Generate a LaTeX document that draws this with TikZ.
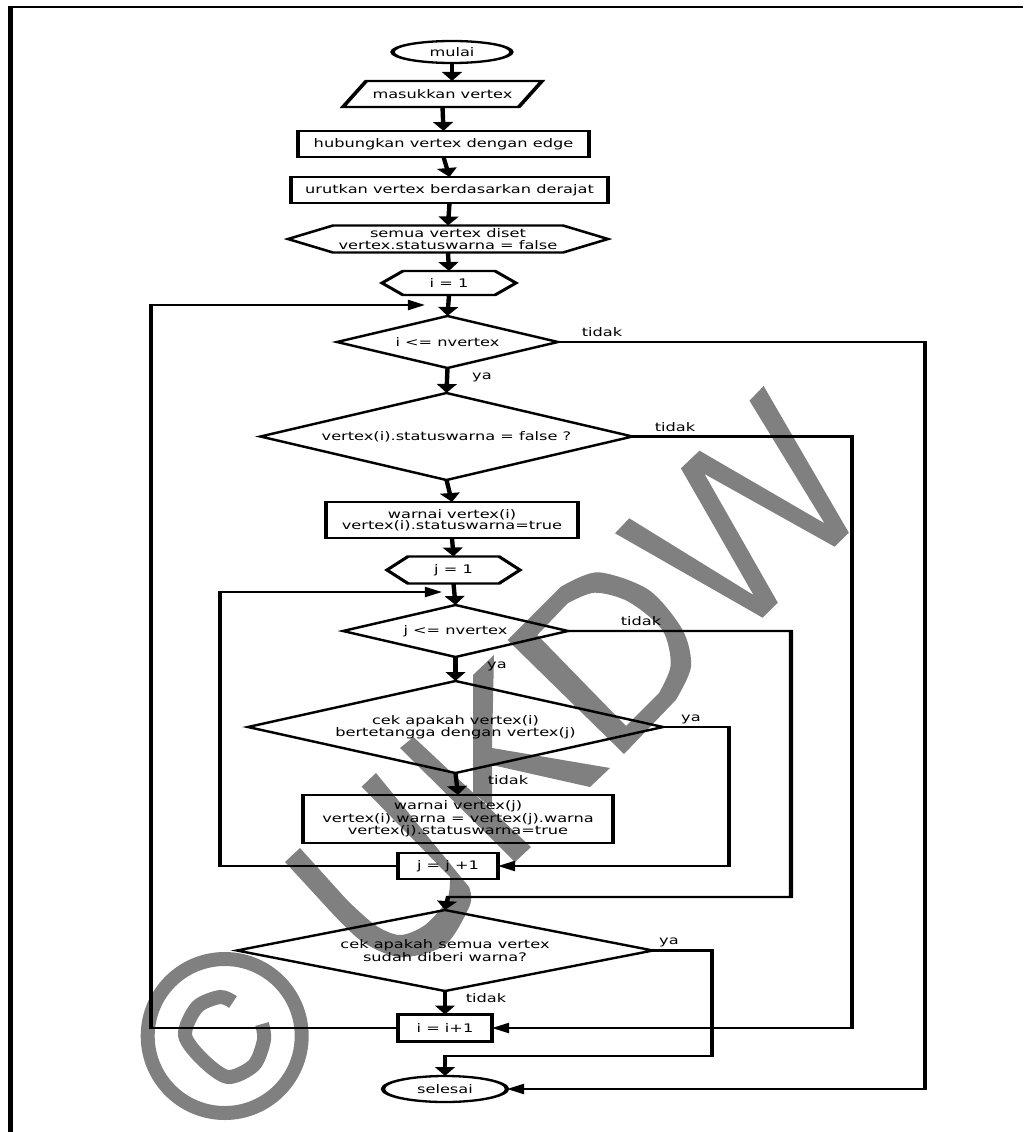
\documentclass[tikz,border=0pt]{standalone}
\usepackage{fontspec}
\setmainfont[FakeStretch=0.722]{DejaVu Sans}
\usetikzlibrary{shapes.geometric,arrows.meta}
\definecolor{wm}{HTML}{808080}
\newcommand{\hexcut}{5pt}
\makeatletter
\pgfdeclareshape{hexbox}{
  \inheritsavedanchors[from=rectangle]
  \inheritanchorborder[from=rectangle]
  \inheritanchor[from=rectangle]{center}
  \inheritanchor[from=rectangle]{north}
  \inheritanchor[from=rectangle]{south}
  \inheritanchor[from=rectangle]{east}
  \inheritanchor[from=rectangle]{west}
  \backgroundpath{
    \southwest \edef\hxa{\the\pgf@x}\edef\hya{\the\pgf@y}
    \northeast \edef\hxb{\the\pgf@x}\edef\hyb{\the\pgf@y}
    \pgfmathsetmacro\hym{(\hya+\hyb)/2}
    \pgfmathsetmacro\hxc{\hxa+\hexcut}
    \pgfmathsetmacro\hxd{\hxb-\hexcut}
    \pgfpathmoveto{\pgfpoint{\hxa}{\hym pt}}
    \pgfpathlineto{\pgfpoint{\hxc pt}{\hyb}}
    \pgfpathlineto{\pgfpoint{\hxd pt}{\hyb}}
    \pgfpathlineto{\pgfpoint{\hxb}{\hym pt}}
    \pgfpathlineto{\pgfpoint{\hxd pt}{\hya}}
    \pgfpathlineto{\pgfpoint{\hxc pt}{\hya}}
    \pgfpathclose
  }
}
\makeatother
\tikzset{
  sized/.style 2 args={minimum width=#1*0.5263pt,minimum height=#2*1pt,inner sep=0pt,outer sep=0pt},
  flow/.style={draw=black,line width=2.3pt,align=center,font=\fontsize{11.8}{11.2}\selectfont},
  procbox/.style={flow,rectangle},
  termbox/.style={flow,ellipse},
  dec/.style={flow,diamond,aspect=2.5},
  prep/.style={flow,shape=hexbox,/utils/exec={\renewcommand{\hexcut}{#1*0.5263pt}}},
  inbox/.style={flow,trapezium,trapezium left angle=39,trapezium right angle=141,trapezium stretches=true},
  conn/.style={draw=black,line width=2.3pt,-{Triangle[length=9pt,width=10pt]}},
  plain/.style={draw=black,line width=2.3pt},
  lab/.style={font=\fontsize{11.8}{11.2}\selectfont,inner sep=0pt},
}
\begin{document}
\begin{tikzpicture}
\useasboundingbox (0,0) rectangle (1023pt,-1132pt);
% watermark, behind the chart
\begin{scope}[x=1pt,y=-1pt]
\fill[wm] (763.6,386)--(848.8,532.7)--(834.6,546.7)--(704.5,474)--(777.8,602.7)--(762.6,617.7)--(615,533.3)--(629.2,518.3)--(753.5,595)--(680.9,468.3)--(699.5,450.7)--(824.5,523.3)--(749.5,400.7)--cycle;
\fill[wm,even odd rule] (507.6,640)-- plot[smooth] coordinates {(561,586.7)(598,572.3)(648.8,590)(682.6,630)(691,666.7)(675.8,700)} --(624,754)--cycle
  (537.3,635)-- plot[smooth] coordinates {(567.7,603.3)(594.7,592.7)(628.5,601.7)(662.3,630)(670.7,665)(659,693)} --(626,726)--cycle;
\fill[wm] (400,748)--(413.5,737)--(531,847)--(515,862)--cycle;
\fill[wm] (494,655)--(492,748)--(610,768)--(590,787)--(492,765)--(492,808)--(473,793)--(473,675)--cycle;
\fill[wm] (285,862)--(300,848)-- plot[smooth] coordinates {(347,900)(375,925)(400,935)(425,925)(447,900)(450,877)} --(361.6,786.7)--(376,773)-- plot[smooth] coordinates {(469,887)(470,905)(445,945)(400,957)(360,940)(320,900)} --cycle;
\draw[wm,line width=14pt] (224.7,1036) circle (77pt);
\draw[wm,line width=14pt] plot[smooth] coordinates {(233,1002)(220,997)(197,1007)(185,1035)(203,1060)(228,1077)(254,1065)(264,1040)(262,1024)};
\end{scope}
% chart, stretched horizontally
\begin{scope}[transform canvas={xscale=1.9},x=0.5263pt,y=-1pt]
\coordinate (bl) at (10.5,1132);
\coordinate (tl) at (10.5,7);
\coordinate (tr) at (1023,7);
\draw[plain] (bl)--(tl)--(tr);

\node[termbox,sized={119}{22}] (mulai) at (452,52) {mulai};
\node[inbox,sized={201}{26}] (mas) at (442.5,94) {masukkan vertex};
\node[procbox,sized={291}{26}] (hub) at (443.5,144) {hubungkan vertex dengan edge};
\node[procbox,sized={317}{26}] (urut) at (449.5,190) {urutkan vertex berdasarkan derajat};
\node[prep=45,sized={320}{27}] (semua) at (448,239) {semua vertex diset\\vertex.statuswarna = false};
\node[prep=21,sized={134}{24}] (i1) at (449,283) {i = 1};
\node[dec,sized={221}{52}] (d1) at (447.5,342) {i <= nvertex};
\node[dec,sized={372}{87}] (d2) at (446.5,436.5) {vertex(i).statuswarna = false ?};
\node[procbox,sized={252}{36}] (warnai) at (452,520) {warnai vertex(i)\\vertex(i).statuswarna=true};
\node[prep=21,sized={133}{27}] (j1) at (453.5,570) {j = 1};
\node[dec,sized={225}{52}] (d3) at (455.5,631) {j <= nvertex};
\node[dec,sized={415}{92}] (d4) at (455.5,727) {cek apakah vertex(i)\\bertetangga dengan vertex(j)};
\node[procbox,sized={310}{48}] (warnaij) at (458,819) {warnai vertex(j)\\vertex(i).warna = vertex(j).warna\\vertex(j).statuswarna=true};
\node[procbox,sized={100}{26}] (jplus) at (448,866) {j = j +1};
\node[dec,sized={416}{81}] (d5) at (445,950.5) {cek apakah semua vertex\\sudah diberi warna?};
\node[procbox,sized={94}{27}] (iplus) at (445,1028) {i = i+1};
\node[termbox,sized={124}{26}] (selesai) at (445,1089) {selesai};

\node[lab] (l1) at (602,332) {tidak};
\node[lab] (l2) at (482,377) {ya};
\node[lab] (l3) at (675,427) {tidak};
\node[lab] (l4) at (641,621) {tidak};
\node[lab] (l5) at (497,666) {ya};
\node[lab] (l6) at (691,719) {ya};
\node[lab] (l7) at (508,780) {tidak};
\node[lab] (l8) at (669,942) {ya};
\node[lab] (l9) at (486,998) {tidak};

\coordinate (rail1) at (925,0);
\coordinate (rail2) at (852,0);
\coordinate (rail3) at (791,0);
\coordinate (rail4) at (729,0);
\coordinate (rail5) at (712,0);
\coordinate (rail6) at (220,592);
\coordinate (tip6) at (442,592);
\coordinate (rail7) at (151,305);
\coordinate (tip7) at (425,305);
\coordinate (merge3) at (448,897);
\coordinate (merge5) at (445,1056);

\draw[conn] (mulai.south) -- (mulai.south |- mas.north);
\draw[conn] (mas.south) -- (hub.north);
\draw[conn] (hub.south) -- (urut.north);
\draw[conn] (urut.south) -- (semua.north);
\draw[conn] (semua.south) -- (i1.north);
\draw[conn] (i1.south) -- (d1.north);
\draw[conn] (d1.south) -- (d2.north);
\draw[conn] (d2.south) -- (warnai.north);
\draw[conn] (warnai.south) -- (j1.north);
\draw[conn] (j1.south) -- (d3.north);
\draw[conn] (d3.south) -- (d4.north);
\draw[conn] (d4.south) -- (warnaij.north);
\draw[conn] (d5.south) -- (iplus.north);
\draw[conn] (d1.east) -| (rail1 |- selesai.east) -- (selesai.east);
\draw[conn] (d2.east) -| (rail2 |- iplus.east) -- (iplus.east);
\draw[conn] (d3.east) -| (rail3 |- merge3) -- (merge3) -- (d5.north);
\draw[conn] (d4.east) -| (rail4 |- jplus.east) -- (jplus.east);
\draw[conn] (d5.east) -| (rail5 |- merge5) -- (merge5) -- (selesai.north);
\draw[conn] (jplus.west) -| (rail6) -- (tip6);
\draw[conn] (iplus.west) -| (rail7) -- (tip7);
\end{scope}
\end{tikzpicture}
\end{document}
